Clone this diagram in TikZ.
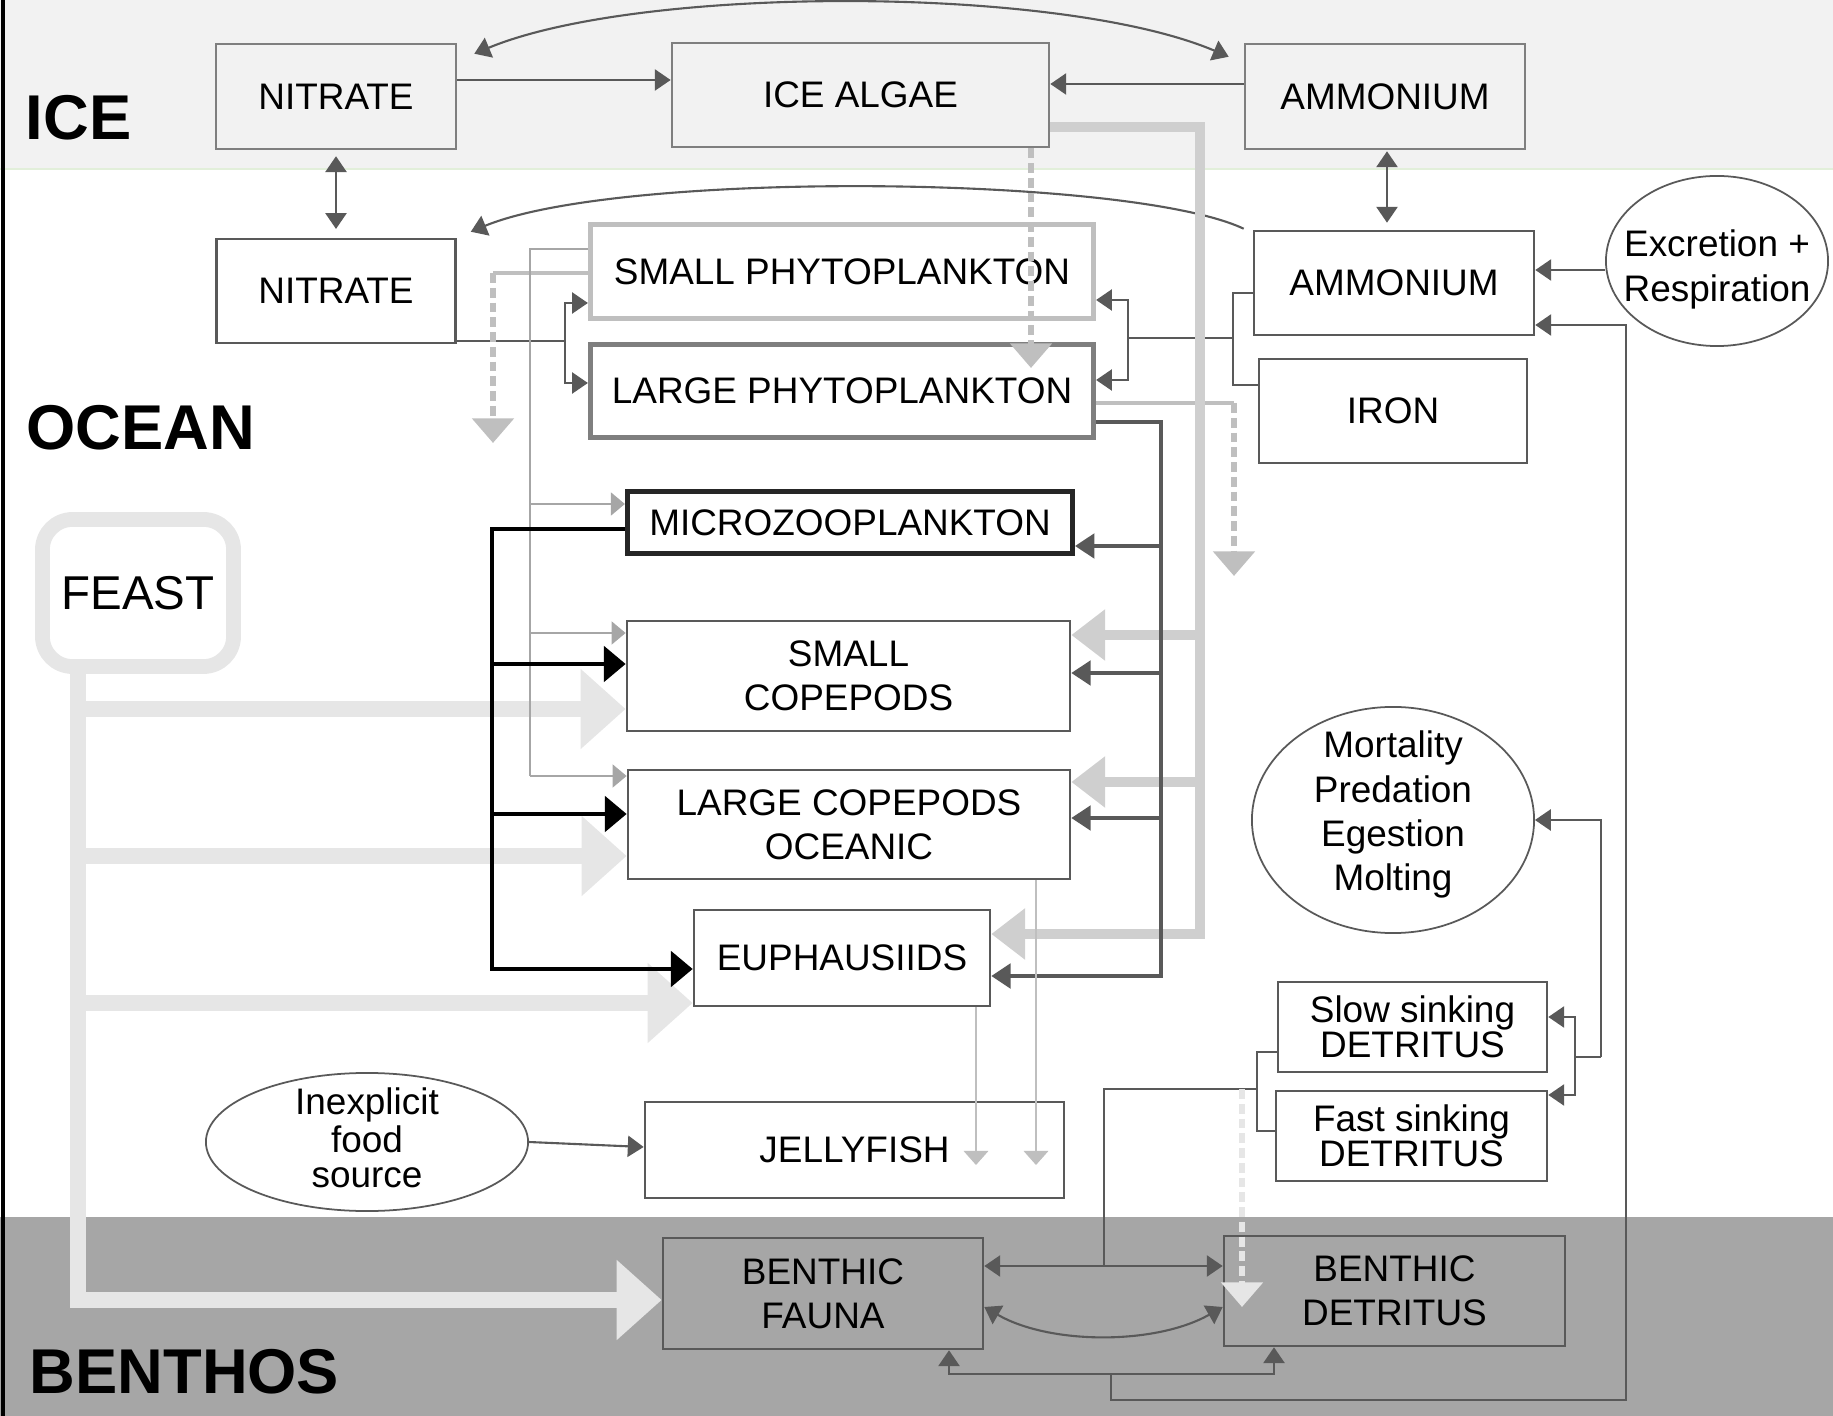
\documentclass[tikz,border=0pt]{standalone}
\usepackage{fontspec}
\setmainfont{Liberation Sans}
\usetikzlibrary{arrows.meta,calc,shapes.geometric}
\definecolor{fwice}{HTML}{F2F2F2}
\definecolor{fwbenthos}{HTML}{A6A6A6}
\definecolor{fwline}{HTML}{595959}
\definecolor{fwiceline}{HTML}{7F7F7F}
\definecolor{fwgray}{HTML}{A6A6A6}
\definecolor{fwlight}{HTML}{BFBFBF}
\definecolor{fwpale}{HTML}{CFCFCF}
\definecolor{fwfeast}{HTML}{E6E6E6}
\definecolor{fwgreen}{HTML}{E2EFDA}
\definecolor{fwdark}{HTML}{262626}
\newcommand{\poolfont}{\fontsize{10.5}{12.6}\selectfont}
\newcommand{\tightfont}{\fontsize{10.5}{10}\selectfont}
\newcommand{\zerostack}[2][0pt]{\makebox[0pt]{\smash{\raisebox{\dimexpr #1-0.25em\relax}{\begin{tabular}{@{}c@{}}#2\end{tabular}}}}}

\begin{document}
\begin{tikzpicture}[x=0.01cm,y=-0.01cm,
 pool/.style={draw=fwline,line width=0.7pt,fill=white,inner sep=1pt,align=center,font=\poolfont},
 icepool/.style={pool,draw=fwiceline,fill=fwice},
 benthpool/.style={pool,fill=fwbenthos},
 proc/.style={ellipse,draw=fwline,line width=0.5pt,fill=white,inner sep=0pt,font=\poolfont},
 feastbox/.style={draw=fwfeast,line width=4.2pt,fill=white,rounded corners=0.3cm,font=\fontsize{13.5}{16}\selectfont},
 region/.style={anchor=base west,inner sep=0pt,font=\fontsize{18}{20}\selectfont\bfseries},
 flux/.style={-{Triangle[length=4.5pt,width=6pt]},line width=0.6pt,draw=fwline},
 fluxboth/.style={{Triangle[length=4.5pt,width=6pt]}-{Triangle[length=4.5pt,width=6pt]},line width=0.6pt,draw=fwline},
 link/.style={line width=0.6pt,draw=fwline},
 graze/.style={-{Triangle[length=4pt,width=6.5pt]},line width=0.7pt,draw=fwgray},
 lgraze/.style={-{Triangle[length=5.5pt,width=7pt]},line width=1pt,draw=fwline},
 mgraze/.style={-{Triangle[length=6.2pt,width=10pt]},line width=1.4pt,draw=black},
 algaeflow/.style={-{Triangle[length=9.6pt,width=14pt]},line width=2.8pt,draw=fwpale},
 feastflow/.style={-{Triangle[length=12.8pt,width=22pt]},line width=4.5pt,draw=fwfeast},
 sink/.style={-{Triangle[length=7pt,width=11.6pt]},line width=1.7pt,draw=fwlight,dash pattern=on 2.8pt off 1.4pt},
 sinkpale/.style={sink,draw=fwfeast},
 jellyin/.style={-{Triangle[length=4pt,width=7pt]},line width=0.4pt,draw=fwlight}
]
\useasboundingbox (0,0) rectangle (1833,1416);
\fill[fwice] (0,0) rectangle (1833,169);
\draw[fwgreen,line width=0.5pt] (0,169) -- (1833,169);
\fill[fwbenthos] (0,1217) rectangle (1833,1416);
\draw[black,line width=0.9pt] (3,0) -- (3,1416);

\node[region] (icelab) at (25,140) {ICE};
\node[region] (oceanlab) at (26,450) {OCEAN};
\node[region] (benthlab) at (29,1393) {BENTHOS};

\node[icepool,minimum width=2.40cm,minimum height=1.05cm] (nitI) at (336,96.5) {NITRATE};
\node[icepool,minimum width=3.77cm,minimum height=1.04cm] (algae) at (860.5,95) {ICE ALGAE};
\node[icepool,minimum width=2.80cm,minimum height=1.05cm] (ammI) at (1385,96.5) {AMMONIUM};
\node[pool,minimum width=2.39cm,minimum height=1.04cm] (nitO) at (336,291) {NITRATE};
\node[pool,draw=fwlight,line width=1.4pt,minimum width=5.03cm,minimum height=0.94cm] (sphy) at (842,271.5) {SMALL PHYTOPLANKTON};
\node[pool,draw=fwiceline,line width=1.4pt,minimum width=5.03cm,minimum height=0.93cm] (lphy) at (842,391) {LARGE PHYTOPLANKTON};
\node[pool,minimum width=2.80cm,minimum height=1.04cm] (ammO) at (1394,283) {AMMONIUM};
\node[pool,minimum width=2.68cm,minimum height=1.04cm] (iron) at (1393,411) {IRON};
\node[proc,minimum width=2.22cm,minimum height=1.70cm] (excr) at (1717,261) {\zerostack[-2.75pt]{Excretion +\\Respiration}};
\node[pool,draw=fwdark,line width=1.4pt,minimum width=4.45cm,minimum height=0.62cm] (micro) at (850,522.5) {MICROZOOPLANKTON};
\node[feastbox,minimum width=1.91cm,minimum height=1.47cm] (feast) at (138,593) {FEAST};
\node[pool,minimum width=4.43cm,minimum height=1.10cm] (scop) at (848.5,676) {SMALL\\COPEPODS};
\node[pool,minimum width=4.42cm,minimum height=1.09cm] (lcop) at (849,824.5) {LARGE COPEPODS\\OCEANIC};
\node[pool,minimum width=2.96cm,minimum height=0.96cm] (euph) at (842,958) {EUPHAUSIIDS};
\node[proc,minimum width=2.82cm,minimum height=2.26cm] (mort) at (1393,820) {\zerostack[1.2pt]{Mortality\\Predation\\Egestion\\Molting}};
\node[pool,font=\tightfont,minimum width=2.69cm,minimum height=0.90cm] (slow) at (1412.5,1027) {Slow sinking\\DETRITUS};
\node[pool,font=\tightfont,minimum width=2.71cm,minimum height=0.90cm] (fast) at (1411.5,1136) {Fast sinking\\DETRITUS};
\node[proc,font=\tightfont,minimum width=3.22cm,minimum height=1.38cm] (inex) at (367,1142) {\zerostack[-0.4pt]{Inexplicit\\food\\source}};
\node[pool,minimum width=4.19cm,minimum height=0.96cm] (jelly) at (854.5,1150) {JELLYFISH};
\node[benthpool,minimum width=3.20cm,minimum height=1.11cm] (fauna) at (823,1293.5) {BENTHIC\\FAUNA};
\node[benthpool,minimum width=3.41cm,minimum height=1.10cm] (bdet) at (1394.5,1291) {BENTHIC\\DETRITUS};

% feast forcing
\draw[feastflow] (78,0 |- feast.south) -- (78,1300) -- (fauna.west |- 0,1300);
\draw[feastflow] (78,709) -- (scop.west |- 0,709);
\draw[feastflow] (78,856) -- (lcop.west |- 0,856);
\draw[feastflow] (78,1003) -- (euph.west |- 0,1003);

% nutrients
\draw[fluxboth] ($(nitI.north east)+(17,11)$) .. controls (640,-15) and (1060,-15) .. ($(ammI.north west)+(-15,14)$);
\draw[flux] (nitI.east |- 0,80) -- (algae.west |- 0,80);
\draw[flux] (ammI.west |- 0,84) -- (algae.east |- 0,84);
\draw[fluxboth,shorten <=1.7pt,shorten >=2.5pt] (nitI.south) -- (nitO.north);
\draw[fluxboth,shorten <=0.3pt,shorten >=2pt] (ammI.south -| 1387,0) -- (ammO.north -| 1387,0);
\draw[flux] ($(ammO.north west)+(-9,-1)$) .. controls (1130,175) and (620,170) .. ($(nitO.north east)+(14,-6)$);
\coordinate (nsplit) at (565,341);
\draw[link] (nitO.east |- nsplit) -- (nsplit);
\draw[flux] (nsplit) -- (565,303) -- (sphy.west |- 0,303);
\draw[flux] (nsplit) -- (565,383) -- (lphy.west |- 0,383);
\coordinate (asplit) at (1233,338);
\draw[link] (ammO.west |- 0,293) -| (1233,385) -- (iron.west |- 0,385);
\draw[link] (asplit) -- (1128,338);
\draw[flux] (1128,338) -- (1128,300) -- (sphy.east |- 0,300);
\draw[flux] (1128,338) -- (1128,380) -- (lphy.east |- 0,380);
\draw[flux] (excr.west |- 0,270) -- (ammO.east |- 0,270);

% sinking losses
\draw[fwlight,line width=1pt] (sphy.west |- 0,273) -- (493,273);
\draw[sink] (493,273) -- (493,443);
\draw[sink] (algae.south -| 1031,0) -- (1031,368);
\draw[fwlight,line width=1pt] (lphy.east |- 0,403) -- (1234,403);
\draw[sink] (1234,403) -- (1234,576);

% grazing
\coordinate (sgraze) at (530,249);
\draw[fwgray,line width=0.7pt] (sphy.west |- sgraze) -- (sgraze) -- (530,776);
\draw[graze] (530,504) -- (micro.west |- 0,504);
\draw[graze] (530,633) -- (scop.west |- 0,633);
\draw[graze] (530,776) -- (lcop.west |- 0,776);
\draw[algaeflow] (algae.east |- 0,127) -- (1200,127) -- (1200,934) -- (euph.east |- 0,934);
\draw[algaeflow] (1200,635) -- (scop.east |- 0,635);
\draw[algaeflow] (1200,782) -- (lcop.east |- 0,782);
\draw[lgraze] (lphy.east |- 0,422) -- (1161,422) -- (1161,976) -- (euph.east |- 0,976);
\draw[lgraze] (1161,546) -- (micro.east |- 0,546);
\draw[lgraze] (1161,673) -- (scop.east |- 0,673);
\draw[lgraze] (1161,818) -- (lcop.east |- 0,818);
\draw[mgraze] (micro.west |- 0,529) -- (492,529) -- (492,969) -- (euph.west |- 0,969);
\draw[mgraze] (492,664) -- (scop.west |- 0,664);
\draw[mgraze] (492,814) -- (lcop.west |- 0,814);

% jellyfish
\draw[flux] (inex.east) -- (jelly.west |- 0,1147);
\draw[jellyin] (euph.south -| 976,0) -- (976,1165);
\draw[jellyin] (lcop.south -| 1036,0) -- (1036,1165);

% detritus and benthos
\coordinate (mjoin) at (1601,1057);
\draw[flux] (mjoin) -- (1601,0 |- mort.east) -- (mort.east);
\draw[link] (mjoin) -- (1575,1057);
\draw[flux] (1575,1057) -- (1575,1017) -- (slow.east |- 0,1017);
\draw[flux] (1575,1057) -- (1575,1095) -- (fast.east |- 0,1095);
\draw[link] (slow.west |- 0,1052) -| (1257,1131) -- (fast.west |- 0,1131);
\draw[link] (1257,1089) -| (1104,1266);
\draw[fluxboth] (fauna.east |- 0,1266) -- (bdet.west |- 0,1266);
\draw[fluxboth] (fauna.east |- 0,1307) .. controls (1050,1345) and (1156,1345) .. (bdet.west |- 0,1307);
\draw[sinkpale] (1242,1089) -- (1242,1307);
\coordinate (rsplit) at (1111,1374);
\draw[flux] (rsplit) -- (1111,1400) -- (1626,1400) -- (1626,325) -- (ammO.east |- 0,325);
\draw[flux] (rsplit) -- (949,1374) -- (949,0 |- fauna.south);
\draw[flux] (rsplit) -- (1274,1374) -- (1274,0 |- bdet.south);
\end{tikzpicture}
\end{document}
